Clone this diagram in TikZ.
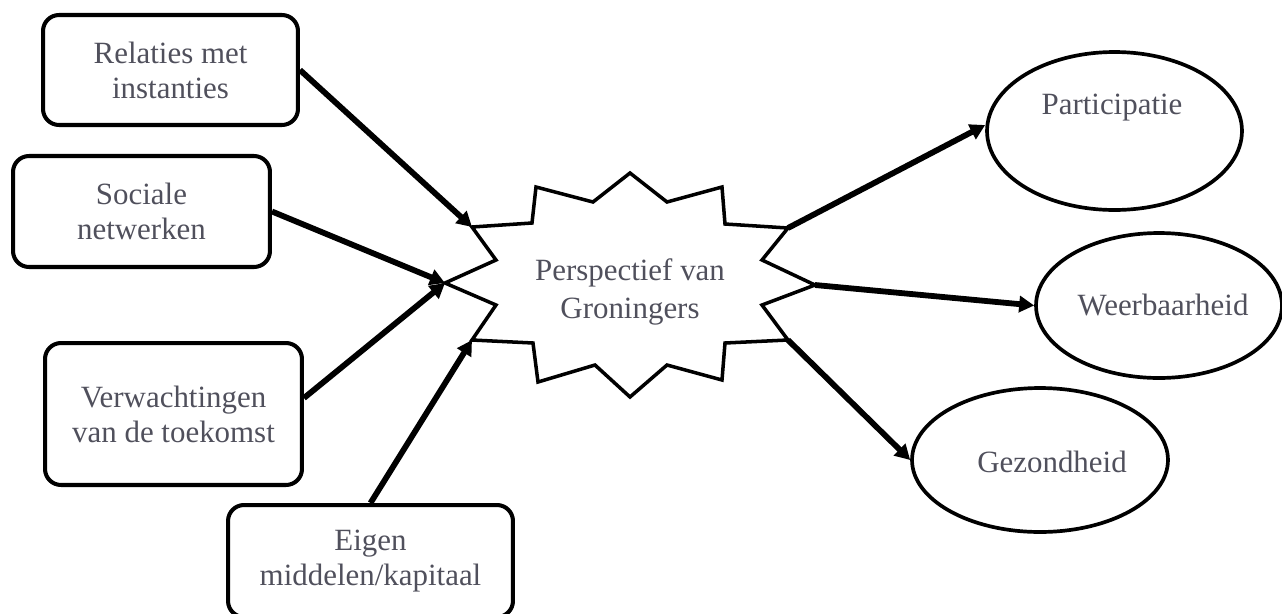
\documentclass[tikz,border=0pt]{standalone}
\usepackage{fontspec}
\setmainfont{Liberation Serif}
\usetikzlibrary{arrows.meta,calc,shapes.geometric}
\definecolor{txtc}{RGB}{80,80,92}
\begin{document}
\begin{tikzpicture}[x=0.02cm,y=-0.02cm,
  txt/.style={text=txtc, font=\fontsize{17.6}{20}\selectfont, align=center, inner sep=0pt},
  rbox/.style={draw, line width=2.3pt, rounded corners=0.32cm, minimum width=5.14cm, minimum height=2.2cm, inner sep=0pt, txt},
  ell/.style={draw, ellipse, line width=2.1pt, inner sep=0pt},
  arr/.style={line width=3.3pt, -{Triangle[length=0.3cm,width=0.32cm]}},
  starline/.style={line width=2pt, line join=miter}]
\useasboundingbox (0,0) rectangle (1282,613);

% left boxes
\node[rbox, minimum width=5.1cm, minimum height=2.2cm] (box1) at (170.5,70) {Relaties met\\instanties};
\node[rbox, minimum width=5.14cm, minimum height=2.22cm] (box2) at (141.5,211.5) {Sociale\\netwerken};
\node[rbox, minimum width=5.14cm, minimum height=2.84cm] (box3) at (173.5,414) {Verwachtingen\\van de toekomst};
\node[rbox, minimum width=5.7cm, minimum height=2.24cm] (box4) at (370.5,561) {Eigen\\middelen/kapitaal};

% star
\coordinate (sUL) at (472,227);
\coordinate (sL) at (445,283);
\coordinate (sLL) at (472,340);
\coordinate (sUR) at (788,228);
\coordinate (sR) at (815,285);
\coordinate (sLR) at (788,340);
\draw[starline] (630,173) -- (667,202) -- (722,187) -- (725,224) -- (sUR) -- (762,260) -- (sR)
  -- (762,305) -- (sLR) -- (725,343) -- (722,380) -- (667,365) -- (630,397) -- (595,365)
  -- (538,382) -- (533,343) -- (sLL) -- (496,305) -- (sL) -- (496,260) -- (sUL) -- (532,223)
  -- (536,187) -- (593,202) -- cycle;
\node[txt, font=\fontsize{17.6}{21.5}\selectfont] (star) at (630,292) {Perspectief van\\Groningers};

% ellipses
\node[ell, minimum width=5.1cm, minimum height=3.16cm] (part) at (1114.5,131) {};
\node[txt] (partT) at (1112,108) {Participatie};
\node[ell, minimum width=4.92cm, minimum height=2.9cm] (weer) at (1159,305.5) {};
\node[txt] (weerT) at (1163,305) {Weerbaarheid};
\node[ell, minimum width=5.12cm, minimum height=2.88cm] (gez) at (1040,460) {};
\node[txt] (gezT) at (1052,462) {Gezondheid};

% arrows
\draw[arr] (box1.east) -- (sUL);
\draw[arr] (box2.east) -- (sL);
\draw[arr] ($(box3.east)+(0,-16)$) -- (sL);
\draw[arr] (box4.north) -- (sLL);
\draw[arr] (sUR) -- ($(part.west)+(0,-6)$);
\draw[arr] (sR) -- (weer.west);
\draw[arr] (sLR) -- (gez.west);
\end{tikzpicture}
\end{document}
